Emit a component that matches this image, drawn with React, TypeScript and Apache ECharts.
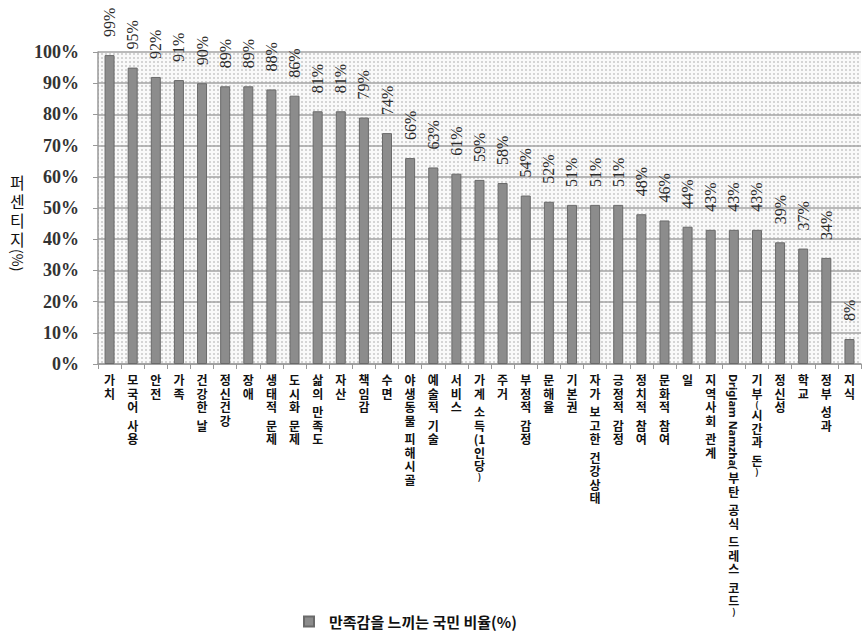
import React, { useEffect, useRef } from 'react';
import * as echarts from 'echarts';

const categories = [
  '가치', '모국어 사용', '안전', '가족', '건강한 날', '정신건강', '장애', '생태적 문제', '도시화 문제',
  '삶의 만족도', '자산', '책임감', '수면', '야생동물 피해시골', '예술적 기술', '서비스', '가계 소득(1인당)',
  '주거', '부정적 감정', '문해율', '기본권', '자가 보고한 건강상태', '긍정적 감정', '정치적 참여',
  '문화적 참여', '일', '지역사회 관계', 'Driglam Namzha(부탄 공식 드레스 코드)', '기부(시간과 돈)',
  '정신성', '학교', '정부 성과', '지식',
];
const values = [
  99, 95, 92, 91, 90, 89, 89, 88, 86, 81, 81, 79, 74, 66, 63, 61, 59, 58, 54, 52, 51, 51, 51, 48, 46,
  44, 43, 43, 43, 39, 37, 34, 8,
];
const seriesName = '만족감을 느끼는 국민 비율(%)';
const yAxisTitle = '퍼센티지';
const yAxisUnit = '(%)';

const KR = "'Noto Sans CJK KR', 'Noto Sans', sans-serif";
const SERIF = "'Liberation Serif', 'DejaVu Serif', serif";

function latinPrefix(s: string): string {
  const m = s.match(/^[A-Za-z][A-Za-z ]*\(/);
  return m ? m[0] : '';
}

function verticalLabel(s: string): string {
  const pre = latinPrefix(s);
  const rest = s.slice(pre.length);
  const lines: string[] = [];
  if (pre) lines.push('{lat| }');
  const chars = Array.from(rest);
  let i = 0;
  while (i < chars.length) {
    const c = chars[i];
    if (c === ' ') {
      lines.push('{sp| }');
      i++;
      continue;
    }
    if (c === '(' && i + 1 < chars.length && /[0-9]/.test(chars[i + 1])) {
      let tok = c;
      i++;
      while (i < chars.length && /[0-9]/.test(chars[i])) {
        tok += chars[i];
        i++;
      }
      lines.push(tok);
      continue;
    }
    if (c === '(' || c === ')') {
      lines.push('{p|' + c + '}');
      i++;
      continue;
    }
    lines.push(c);
    i++;
  }
  return lines.join('\n');
}

export default function App() {
  const ref = useRef<HTMLDivElement>(null);
  useEffect(() => {
    if (!ref.current) return;
    const chart = echarts.init(ref.current, undefined, { renderer: 'svg' });

    const cv = document.createElement('canvas');
    cv.width = 4;
    cv.height = 4;
    const ctx = cv.getContext('2d');
    if (ctx) {
      ctx.fillStyle = '#f9f9f9';
      ctx.fillRect(0, 0, 4, 4);
      ctx.fillStyle = '#d4d4d4';
      ctx.fillRect(1, 1, 2, 2);
    }

    chart.setOption({
      animation: false,
      backgroundColor: '#ffffff',
      grid: {
        left: 98,
        right: 2,
        top: 52,
        bottom: 269,
        show: true,
        borderWidth: 0,
        backgroundColor: { image: cv, repeat: 'repeat' },
      },
      legend: {
        data: [seriesName],
        left: 298,
        top: 609,
        icon: 'rect',
        itemWidth: 10,
        itemHeight: 10,
        textStyle: {
          fontFamily: KR,
          fontSize: 15,
          fontWeight: 'bold',
          color: '#111',
          padding: [0, 0, 0, 10],
        },
      },
      xAxis: {
        type: 'category',
        data: categories,
        axisLine: { lineStyle: { color: '#999999', width: 1.5 } },
        axisTick: { show: true, length: 5, lineStyle: { color: '#999999' } },
        axisLabel: {
          interval: 0,
          margin: 9,
          fontFamily: KR,
          fontSize: 12,
          fontWeight: 'bold',
          color: '#111',
          lineHeight: 13.5,
          formatter: (v: string) => verticalLabel(v),
          rich: {
            sp: { lineHeight: 5, fontSize: 4 },
            lat: { lineHeight: 98, fontSize: 4 },
            p: { lineHeight: 8, fontSize: 9, fontWeight: 'bold', fontFamily: KR, color: '#111' },
          },
        },
      },
      yAxis: {
        type: 'value',
        min: 0,
        max: 100,
        interval: 10,
        axisLine: { show: true, lineStyle: { color: '#999999', width: 1.5 } },
        axisTick: { show: true, length: 5, lineStyle: { color: '#999999' } },
        splitLine: { lineStyle: { color: '#a3a3a3', width: 1.5 } },
        axisLabel: {
          formatter: '{value}%',
          fontFamily: SERIF,
          fontSize: 18,
          fontWeight: 'bold',
          color: '#333',
          margin: 19,
        },
      },
      series: [
        {
          name: seriesName,
          type: 'bar',
          data: values,
          barWidth: 10,
          itemStyle: { color: '#8c8c8c', borderColor: '#6a6a6a', borderWidth: 1 },
          label: {
            show: true,
            position: 'top',
            rotate: 90,
            align: 'left',
            verticalAlign: 'middle',
            distance: 18,
            formatter: '{c}%',
            fontFamily: SERIF,
            fontSize: 16,
            color: '#2a2a2a',
          },
        },
      ],
    });

    const graphics: any[] = [
      {
        type: 'text',
        x: 10,
        y: 172,
        style: {
          text: Array.from(yAxisTitle).join('\n'),
          fontFamily: KR,
          fontSize: 16,
          lineHeight: 19,
          fill: '#111',
          align: 'left',
          verticalAlign: 'top',
        },
      },
      {
        type: 'text',
        x: 18,
        y: 249,
        rotation: -Math.PI / 2,
        style: {
          text: yAxisUnit,
          fontFamily: KR,
          fontSize: 14,
          fill: '#111',
          align: 'left',
          verticalAlign: 'middle',
        },
      },
    ];

    const y0 = chart.convertToPixel({ yAxisIndex: 0 }, 0) as number;
    categories.forEach((c) => {
      const pre = latinPrefix(c);
      if (!pre) return;
      const px = chart.convertToPixel({ xAxisIndex: 0 }, c) as number;
      graphics.push({
        type: 'text',
        x: px,
        y: y0 + 10,
        rotation: -Math.PI / 2,
        style: {
          text: pre,
          fontFamily: "'Noto Sans', sans-serif",
          fontSize: 11,
          fontWeight: 'bold',
          fill: '#111',
          align: 'left',
          verticalAlign: 'middle',
        },
      });
    });
    chart.setOption({ graphic: graphics });

    return () => chart.dispose();
  }, []);
  return (
    <div
      ref={ref}
      style={{ position: 'fixed', left: 0, top: 0, width: 863, height: 633, background: '#fff' }}
    />
  );
}
